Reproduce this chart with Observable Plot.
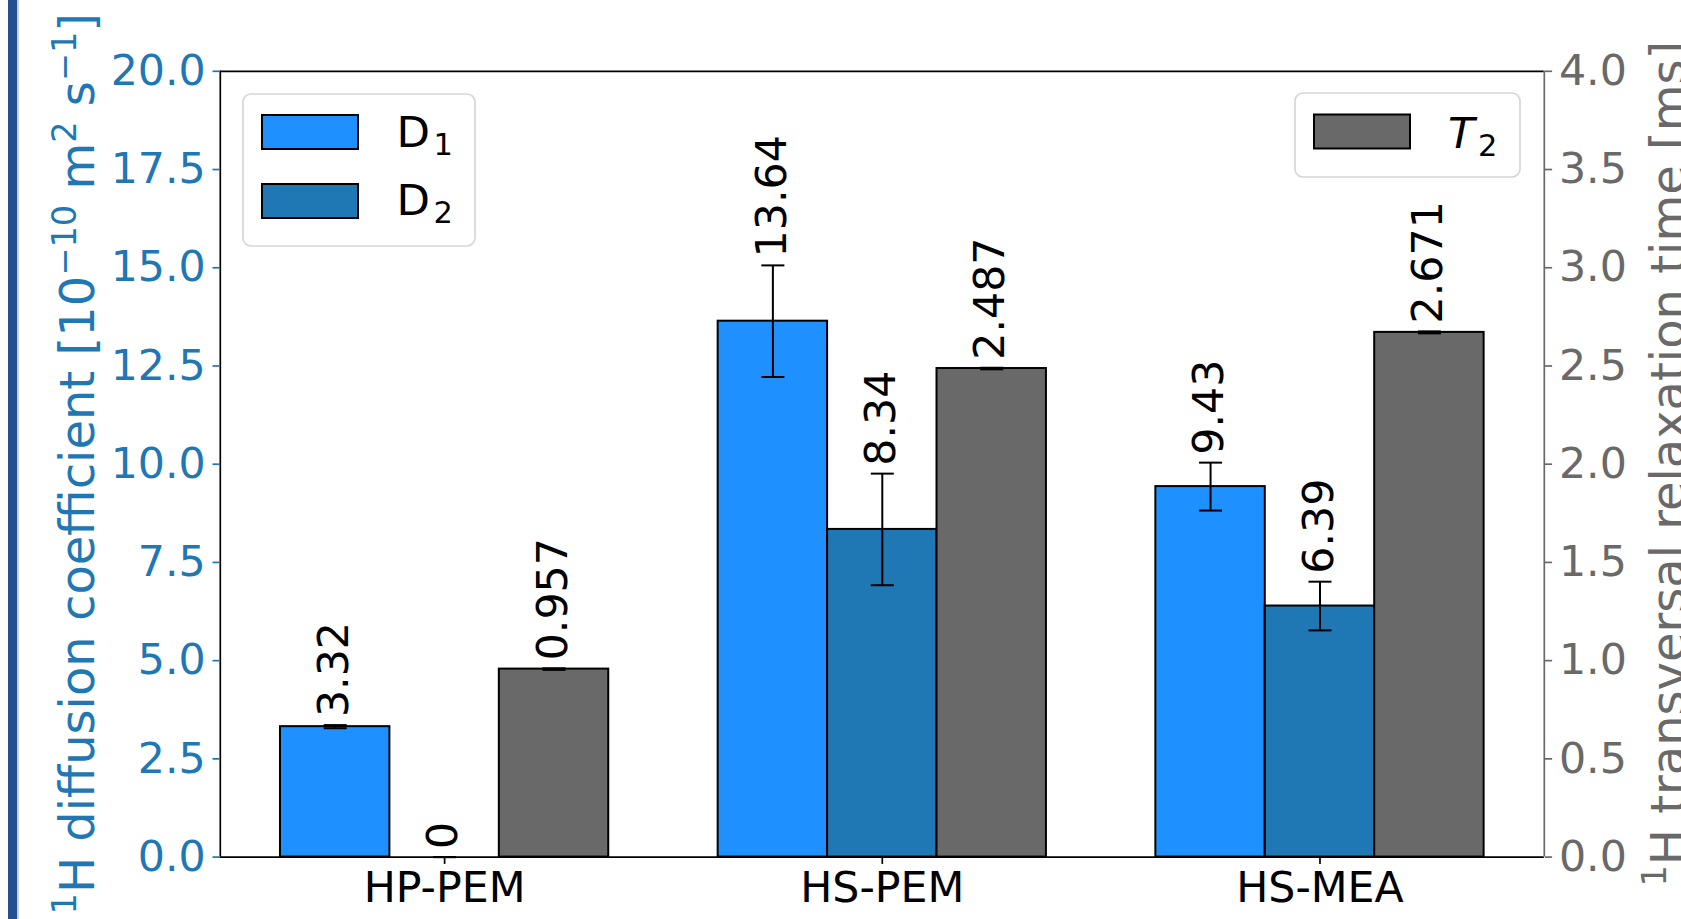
<!DOCTYPE html>
<html>
<head>
<meta charset="utf-8">
<script src="https://cdn.jsdelivr.net/npm/d3@7"></script>
<script src="https://cdn.jsdelivr.net/npm/@observablehq/plot@0.6"></script>
<style>
  html, body { margin: 0; padding: 0; background: #fff; overflow: hidden; }
  #wrap { position: relative; width: 1681px; height: 919px; }
  #wrap svg { position: absolute; left: 0; top: 0; }
  #slideBar { position: absolute; left: 8px; top: 0; width: 8.5px; height: 919px; background: #24508f; z-index: 2; }
  #slideLine { position: absolute; left: 16.5px; top: 0; width: 2px; height: 919px; background: #c9d0dc; z-index: 2; }
</style>
</head>
<body>
<div id="wrap"><div id="slideBar"></div><div id="slideLine"></div></div>
<script>
// ---------- data ----------
const groups = ["HP-PEM", "HS-PEM", "HS-MEA"];
const d1 = [3.32, 13.64, 9.43];          // 1e-10 m^2 s^-1
const d1Err = [0.04, 1.42, 0.61];
const d2 = [0, 8.34, 6.39];
const d2Err = [0, 1.42, 0.62];
const t2 = [0.957, 2.487, 2.671];        // ms
const t2Err = [0.004, 0.004, 0.005];
const d1Labels = ["3.32", "13.64", "9.43"];
const d2Labels = ["0", "8.34", "6.39"];
const t2Labels = ["0.957", "2.487", "2.671"];
const leftTicks = [0, 2.5, 5, 7.5, 10, 12.5, 15, 17.5, 20];
const rightTicks = [0, 0.5, 1, 1.5, 2, 2.5, 3, 3.5, 4];
// axis titles as [text, superscript?] runs
const leftTitle = [["1", true], ["H diffusion coefficient [10", false], ["−10", true], [" m", false], ["2", true], [" s", false], ["−1", true], ["]", false]];
const rightTitle = [["1", true], ["H transversal relaxation time [ms]", false]];

// ---------- styling / layout ----------
const colD1 = "#1e90ff", colD2 = "#1f77b4", colT2 = "#696969";
const leftMax = 20, rightMax = 4, rightToLeft = leftMax / rightMax;
const offsets = [-0.25, 0, 0.25];
const barW = 0.25;
const xDomain = [-0.5125, 2.5125];
const W = 1681, H = 919;
const mL = 219.8, mR = 137.2, mT = 70.8, mB = 62.4;
const FS = 42.7;       // tick & value labels
const FSL = 48;        // axis titles
const FSLeg = 43.5;    // legend

function rowsFor(vals, errs, labels, k, scale) {
  return vals.map((v, i) => ({
    group: groups[i],
    x: i + offsets[k],
    value: v * scale,
    err: errs[i] * scale,
    label: labels[i]
  }));
}
const rD1 = rowsFor(d1, d1Err, d1Labels, 0, 1);
const rD2 = rowsFor(d2, d2Err, d2Labels, 1, 1);
const rT2 = rowsFor(t2, t2Err, t2Labels, 2, rightToLeft);
const all = [...rD1, ...rD2, ...rT2];
const caps = all.flatMap(d => [{x: d.x, y: d.value - d.err}, {x: d.x, y: d.value + d.err}]);

const capSymbol = {
  draw(ctx, size) {
    const w = Math.sqrt(size / Math.PI);
    ctx.moveTo(-w, 0);
    ctx.lineTo(w, 0);
  }
};

function bars(rows, fill) {
  return Plot.rectY(rows, {
    x1: d => d.x - barW / 2, x2: d => d.x + barW / 2, y1: 0, y2: "value",
    fill, stroke: "black", strokeWidth: 2
  });
}

const chart = Plot.plot({
  width: W, height: H,
  marginLeft: mL, marginRight: mR, marginTop: mT, marginBottom: mB,
  style: { fontFamily: "'DejaVu Sans', sans-serif", fontSize: FS + "px", background: "transparent", overflow: "visible" },
  x: { domain: xDomain, axis: null },
  y: { domain: [0, leftMax], axis: null },
  marks: [
    bars(rD1, colD1),
    bars(rD2, colD2),
    bars(rT2, colT2),
    Plot.ruleX(all, { x: "x", y1: d => d.value - d.err, y2: d => d.value + d.err, stroke: "black", strokeWidth: 2 }),
    Plot.dot(caps, { x: "x", y: "y", symbol: capSymbol, r: 11.5, stroke: "black", strokeWidth: 2, fill: "none" }),
    Plot.text(all, {
      x: "x", y: d => d.value + d.err, text: "label", rotate: -90,
      textAnchor: "start", lineAnchor: "middle", dy: -8, dx: -1,
      fontSize: FS, fill: "black"
    }),
    // spines
    Plot.ruleY([0, leftMax], { stroke: "black", strokeWidth: 1.7 }),
    Plot.ruleX([xDomain[0]], { stroke: "black", strokeWidth: 1.7 }),
    Plot.ruleX([xDomain[1]], { stroke: colT2, strokeWidth: 1.7 }),
    // axes
    Plot.axisY({
      anchor: "left", ticks: leftTicks, tickFormat: d => d.toFixed(1),
      color: colD2, tickSize: 7.3, tickPadding: 7.3, strokeWidth: 1.7, fontSize: FS, label: null
    }),
    Plot.axisY({
      anchor: "right", ticks: rightTicks.map(v => v * rightToLeft), tickFormat: d => (d / rightToLeft).toFixed(1),
      color: colT2, tickSize: 7.3, tickPadding: 7.3, strokeWidth: 1.7, fontSize: FS, label: null
    }),
    Plot.axisX({
      ticks: [0, 1, 2], tickFormat: i => groups[i],
      color: "black", tickSize: 7.3, tickPadding: 7.3, strokeWidth: 1.7, fontSize: FS, label: null
    })
  ]
});

document.getElementById("wrap").appendChild(chart);
const svg = d3.select(chart);

// ---------- axis titles (with superscripts) ----------
function axisTitle(runs, baselineX, centerY, fill) {
  const t = svg.append("text")
    .attr("transform", `translate(${baselineX},${centerY}) rotate(-90)`)
    .attr("text-anchor", "middle")
    .attr("font-family", "'DejaVu Sans', sans-serif")
    .attr("font-size", FSL)
    .attr("fill", fill);
  let raised = false;
  const shift = 0.38 * FSL;
  runs.forEach(([s, sup]) => {
    const ts = t.append("tspan").text(s);
    if (sup) {
      ts.attr("font-size", FSL * 0.7);
      if (!raised) { ts.attr("dy", -shift); raised = true; }
    } else if (raised) {
      ts.attr("dy", shift); raised = false;
    }
  });
}
const midY = mT + (H - mT - mB) / 2;
axisTitle(leftTitle, 94, midY, colD2);
axisTitle(rightTitle, 1684.5, midY, colT2);

// ---------- legends ----------
const leg = svg.append("g").attr("font-family", "'DejaVu Sans', sans-serif").attr("text-anchor", "start");
function legendBox(x, y, w, h) {
  leg.append("rect").attr("x", x).attr("y", y).attr("width", w).attr("height", h)
    .attr("rx", 8).attr("fill", "white").attr("fill-opacity", 0.8)
    .attr("stroke", "#d6d6d6").attr("stroke-width", 1.7);
}
function legendItem(px, py, fill, tx, ty, main, sub, italic) {
  leg.append("rect").attr("x", px).attr("y", py).attr("width", 96).attr("height", 34)
    .attr("fill", fill).attr("stroke", "black").attr("stroke-width", 2);
  const t = leg.append("text").attr("x", tx).attr("y", ty).attr("font-size", FSLeg).attr("fill", "black");
  t.append("tspan").text(main).attr("font-style", italic ? "italic" : "normal");
  t.append("tspan").text(sub).attr("font-size", FSLeg * 0.7).attr("dy", 8).attr("dx", 3.5);
}
legendBox(243, 94, 232, 152);
legendItem(262, 115, colD1, 396.4, 146.7, "D", "1", false);
legendItem(262, 184, colD2, 396.4, 215, "D", "2", false);
legendBox(1295, 93, 225, 84);
legendItem(1314, 114.5, colT2, 1448, 148.3, "T", "2", true);
</script>
</body>
</html>
